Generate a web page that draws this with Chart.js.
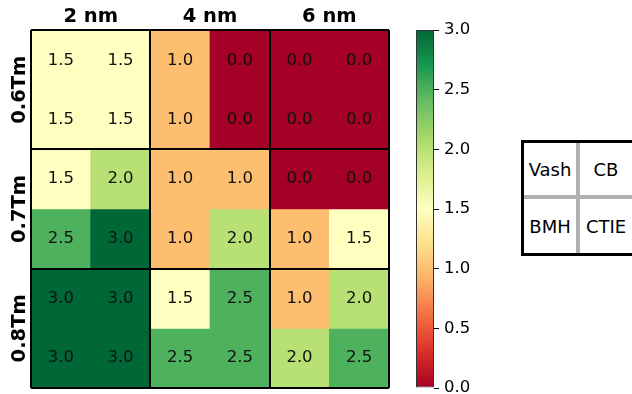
<!DOCTYPE html>
<html>
<head>
<meta charset="utf-8">
<script src="https://cdn.jsdelivr.net/npm/chart.js@4.4.1/dist/chart.umd.min.js"></script>
<style>
  html, body { margin: 0; padding: 0; background: #fff; overflow: hidden; }
  #wrap { position: relative; width: 632px; height: 394px; overflow: hidden; }
  #heat { position: absolute; left: 0; top: 0; }
  #cbar { position: absolute; left: 400px; top: 0; }
  #key {
    position: absolute; left: 521px; top: 140px; width: 108px; height: 110px;
    border: 3px solid #000; background: #b0b0b0;
    font-family: "DejaVu Sans"; font-size: 18px; color: #000;
  }
  .cell { position: absolute; background: #fff; display: flex; align-items: center; justify-content: center; }
</style>
</head>
<body>
<div id="wrap">
  <canvas id="heat" width="632" height="394"></canvas>
  <canvas id="cbar" width="100" height="403"></canvas>
  <div id="key">
    <div class="cell" style="left:0;top:0;width:52px;height:52px">Vash</div>
    <div class="cell" style="left:56px;top:0;width:52px;height:52px">CB</div>
    <div class="cell" style="left:0;top:56px;width:52px;height:54px">BMH</div>
    <div class="cell" style="left:56px;top:56px;width:52px;height:54px">CTIE</div>
  </div>
</div>
<script>
// group labels
const columnGroups = ["2 nm", "4 nm", "6 nm"];
const rowGroups = ["0.6Tm", "0.7Tm", "0.8Tm"];

// cell values, one array per row (top to bottom)
const tm06Upper = [1.5, 1.5, 1.0, 0.0, 0.0, 0.0];
const tm06Lower = [1.5, 1.5, 1.0, 0.0, 0.0, 0.0];
const tm07Upper = [1.5, 2.0, 1.0, 1.0, 0.0, 0.0];
const tm07Lower = [2.5, 3.0, 1.0, 2.0, 1.0, 1.5];
const tm08Upper = [3.0, 3.0, 1.5, 2.5, 1.0, 2.0];
const tm08Lower = [3.0, 3.0, 2.5, 2.5, 2.0, 2.5];
const cellRows = [tm06Upper, tm06Lower, tm07Upper, tm07Lower, tm08Upper, tm08Lower];

const colorbarTicks = [0, 0.5, 1.0, 1.5, 2.0, 2.5, 3.0];
const vmin = 0, vmax = 3;

// RdYlGn
const rdylgn = [
  [165, 0, 38], [215, 48, 39], [244, 109, 67], [253, 174, 97], [254, 224, 139],
  [255, 255, 191], [217, 239, 139], [166, 217, 106], [102, 189, 99], [26, 152, 80], [0, 104, 55]
];

function cmap(v) {
  const t = Math.min(1, Math.max(0, (v - vmin) / (vmax - vmin))) * (rdylgn.length - 1);
  const i = Math.min(rdylgn.length - 2, Math.floor(t));
  const f = t - i;
  const a = rdylgn[i], b = rdylgn[i + 1];
  const c = a.map((x, k) => Math.round(x + (b[k] - x) * f));
  return `rgb(${c[0]},${c[1]},${c[2]})`;
}

const FONT = "DejaVu Sans";

const cellText = {
  id: "cellText",
  afterDatasetsDraw(chart) {
    const ctx = chart.ctx;
    ctx.save();
    ctx.font = `16.5px "${FONT}"`;
    ctx.fillStyle = "#111";
    ctx.textAlign = "center";
    ctx.textBaseline = "middle";
    chart.data.datasets.forEach((ds, i) => {
      chart.getDatasetMeta(i).data.forEach((bar, j) => {
        const p = bar.getCenterPoint();
        ctx.fillText(ds.values[j].toFixed(1), p.x, p.y);
      });
    });
    ctx.restore();
  }
};

// thick black lines between the 2x2 groups
const groupGrid = {
  z: 1,
  offset: false,
  color: "#000",
  lineWidth: (c) => (c.tick && c.tick.value % 2 === 0 ? 2 : 0),
  drawTicks: false
};

new Chart(document.getElementById("heat"), {
  type: "bar",
  data: {
    labels: tm06Upper.map((_, i) => i),
    datasets: cellRows.map((row, r) => ({
      values: row,
      data: row.map(() => [r, r + 1]),
      backgroundColor: row.map(cmap),
      borderWidth: 0,
      barPercentage: 1,
      categoryPercentage: 1,
      grouped: false
    }))
  },
  options: {
    responsive: false,
    animation: false,
    layout: { padding: { left: 0, top: 0, right: 243, bottom: 6 } },
    plugins: { legend: { display: false }, tooltip: { enabled: false } },
    scales: {
      x: { type: "category", display: false },
      x2: {
        type: "linear", position: "top", min: 0, max: 6, offset: false,
        afterFit: (s) => { s.height = 30; },
        afterBuildTicks: (s) => { s.ticks = [0, 1, 2, 3, 4, 5, 6].map((v) => ({ value: v })); },
        ticks: {
          autoSkip: false, maxRotation: 0, padding: 1, color: "#000",
          font: { family: FONT, size: 19.5, weight: "bold" },
          callback: (v) => (v % 2 === 1 ? columnGroups[(v - 1) / 2] : "")
        },
        grid: groupGrid,
        border: { display: false }
      },
      y: {
        type: "linear", position: "left", min: 0, max: 6, reverse: true, offset: false,
        afterFit: (s) => { s.width = 31; },
        afterBuildTicks: (s) => { s.ticks = [0, 1, 2, 3, 4, 5, 6].map((v) => ({ value: v })); },
        ticks: {
          autoSkip: false, minRotation: 90, maxRotation: 90, crossAlign: "center",
          padding: -23, color: "#000",
          font: { family: FONT, size: 19.5, weight: "bold" },
          callback: (v) => (v % 2 === 1 ? rowGroups[(v - 1) / 2] : "")
        },
        grid: groupGrid,
        border: { display: false }
      }
    }
  },
  plugins: [cellText]
});

// colorbar
new Chart(document.getElementById("cbar"), {
  type: "bar",
  data: {
    labels: [""],
    datasets: [{
      data: [[vmin, vmax]],
      backgroundColor: (c) => {
        const area = c.chart.chartArea;
        if (!area) return cmap(1.5);
        const g = c.chart.ctx.createLinearGradient(0, area.bottom, 0, area.top);
        rdylgn.forEach((col, i) => g.addColorStop(i / (rdylgn.length - 1), `rgb(${col.join(",")})`));
        return g;
      },
      borderColor: "#333",
      borderWidth: 1,
      borderSkipped: false,
      barPercentage: 1,
      categoryPercentage: 1,
      inflateAmount: 0
    }]
  },
  options: {
    responsive: false,
    animation: false,
    layout: { padding: { left: 16, top: 30, right: 0, bottom: 0 } },
    plugins: { legend: { display: false }, tooltip: { enabled: false } },
    scales: {
      x: { display: false },
      y: {
        position: "right", min: vmin, max: vmax,
        afterFit: (s) => { s.width = 66; },
        afterBuildTicks: (s) => { s.ticks = colorbarTicks.map((v) => ({ value: v })); },
        ticks: {
          padding: 5, color: "#000",
          font: { family: FONT, size: 16.5 },
          callback: (v) => v.toFixed(1)
        },
        grid: { drawOnChartArea: false, drawTicks: true, tickLength: 5, color: "#000", lineWidth: 1 },
        border: { display: false }
      }
    }
  }
});
</script>
</body>
</html>
